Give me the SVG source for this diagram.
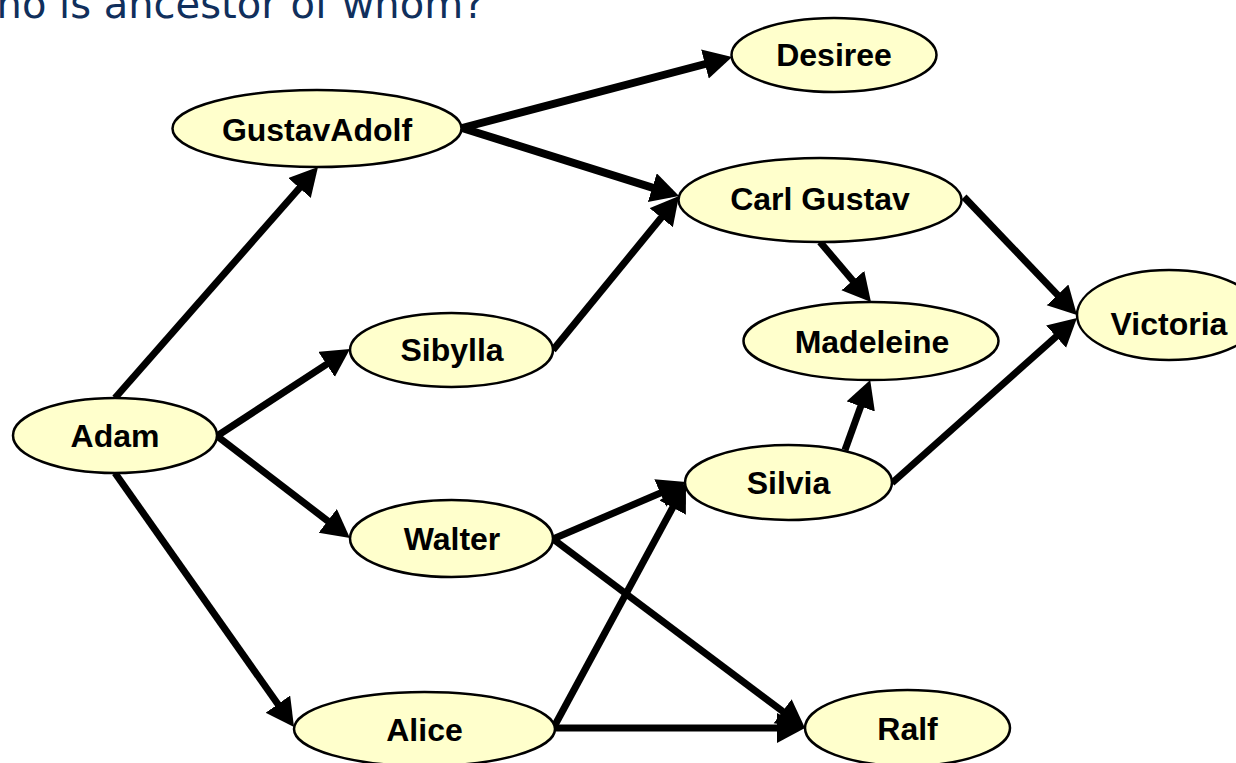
<svg xmlns="http://www.w3.org/2000/svg" width="1236" height="763" viewBox="0 0 1236 763">
<style>
.node ellipse{fill:#ffffcc;stroke:#000;stroke-width:2.5}
.node text{font-family:"Liberation Sans",Arial,sans-serif;font-weight:bold;font-size:32px;fill:#000;text-anchor:middle}
.edges line{stroke:#000;stroke-width:7;marker-end:url(#arrow)}
.edges line.thick{stroke-width:8}
.title{font-family:"DejaVu Sans",Verdana,sans-serif;font-size:40px;fill:#102f5c}
</style>
<defs>
<marker id="arrow" markerUnits="userSpaceOnUse" markerWidth="30" markerHeight="32" refX="20" refY="15" orient="auto">
<path d="M0,0 L28,15 L0,30 z" fill="#000"/>
</marker>
</defs>
<rect width="1236" height="763" fill="#fff"/>
<text class="title" x="-43" y="18">Who is ancestor of whom?</text>
<g class="edges">
<line class="thick" x1="462" y1="128" x2="724.3" y2="59"/>
<line class="thick" x1="462" y1="128" x2="671.4" y2="193.6"/>
<line x1="115" y1="398" x2="312.7" y2="173"/>
<line x1="217" y1="436" x2="343.3" y2="353.4"/>
<line x1="217" y1="436" x2="343.6" y2="533.1"/>
<line x1="115" y1="473" x2="289.4" y2="720.5"/>
<line x1="553" y1="350" x2="673.9" y2="202.2"/>
<line x1="820" y1="242" x2="865.8" y2="295.9"/>
<line x1="964" y1="197" x2="1071.4" y2="309.3"/>
<line x1="845" y1="450" x2="867.5" y2="387.6"/>
<line x1="892" y1="483" x2="1071" y2="323.3"/>
<line x1="553" y1="539" x2="678.6" y2="485.2"/>
<line x1="553" y1="539" x2="798.6" y2="723.2"/>
<line x1="555" y1="725" x2="682.2" y2="490"/>
<line x1="555" y1="728" x2="797" y2="728"/>
</g>
<g id="desiree" class="node"><ellipse cx="834" cy="55" rx="102.5" ry="37"/><text x="834" y="66">Desiree</text></g>
<g id="gustavadolf" class="node"><ellipse cx="317" cy="128.5" rx="144.5" ry="38.5"/><text x="317" y="141">GustavAdolf</text></g>
<g id="carlgustav" class="node"><ellipse cx="820" cy="200" rx="141.5" ry="42"/><text x="820" y="210">Carl Gustav</text></g>
<g id="victoria" class="node"><ellipse cx="1169" cy="315" rx="92" ry="45"/><text x="1169" y="335">Victoria</text></g>
<g id="madeleine" class="node"><ellipse cx="871" cy="341" rx="127.5" ry="39"/><text x="872" y="353">Madeleine</text></g>
<g id="sibylla" class="node"><ellipse cx="451.5" cy="350" rx="101.5" ry="37"/><text x="452" y="361">Sibylla</text></g>
<g id="adam" class="node"><ellipse cx="115" cy="435.5" rx="102" ry="37.5"/><text x="115" y="447">Adam</text></g>
<g id="silvia" class="node"><ellipse cx="788.5" cy="482.5" rx="103.5" ry="37.5"/><text x="788.5" y="494">Silvia</text></g>
<g id="walter" class="node"><ellipse cx="451.5" cy="538.5" rx="101.5" ry="38.5"/><text x="452" y="550">Walter</text></g>
<g id="alice" class="node"><ellipse cx="424.5" cy="729" rx="130.5" ry="37"/><text x="424.5" y="741">Alice</text></g>
<g id="ralf" class="node"><ellipse cx="907.5" cy="728" rx="102.5" ry="38"/><text x="907.5" y="740">Ralf</text></g>
</svg>
